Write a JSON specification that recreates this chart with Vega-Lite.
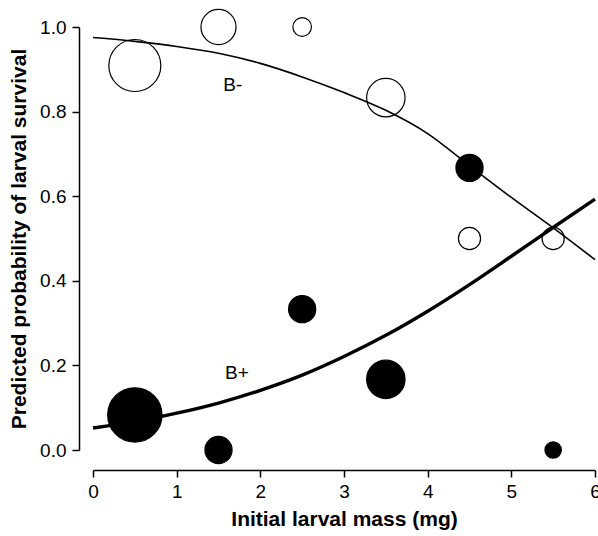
{
  "$schema": "https://vega.github.io/schema/vega-lite/v6.json",
  "width": 502,
  "height": 423,
  "autosize": "none",
  "padding": {"left": 93, "top": 27, "right": 3, "bottom": 86},
  "config": {
    "view": {"stroke": null},
    "font": "Liberation Sans",
    "axis": {
      "grid": false,
      "domainColor": "black",
      "domainWidth": 1.5,
      "tickColor": "black",
      "tickWidth": 1.5,
      "tickSize": 7,
      "labelColor": "black",
      "labelFontSize": 19,
      "labelFont": "Liberation Sans",
      "titleColor": "black",
      "titleFontSize": 21,
      "titleFontWeight": "bold",
      "titleFont": "Liberation Sans"
    }
  },
  "datasets": {
    "points": [
      {"mass": 0.5, "p": 0.909, "n": 11, "group": "B-"},
      {"mass": 1.5, "p": 1.0, "n": 5, "group": "B-"},
      {"mass": 2.5, "p": 1.0, "n": 1.4, "group": "B-"},
      {"mass": 3.5, "p": 0.833, "n": 6, "group": "B-"},
      {"mass": 4.5, "p": 0.5, "n": 2, "group": "B-"},
      {"mass": 5.5, "p": 0.5, "n": 2, "group": "B-"},
      {"mass": 0.5, "p": 0.083, "n": 12, "group": "B+"},
      {"mass": 1.5, "p": 0.0, "n": 3, "group": "B+"},
      {"mass": 2.5, "p": 0.333, "n": 3, "group": "B+"},
      {"mass": 3.5, "p": 0.167, "n": 6, "group": "B+"},
      {"mass": 4.5, "p": 0.667, "n": 3, "group": "B+"},
      {"mass": 5.5, "p": 0.0, "n": 1.1, "group": "B+"}
    ],
    "curves": [
      {"mass": 0, "p": 0.975, "group": "B-"},
      {"mass": 0.5, "p": 0.966, "group": "B-"},
      {"mass": 1, "p": 0.954, "group": "B-"},
      {"mass": 1.5, "p": 0.938, "group": "B-"},
      {"mass": 2, "p": 0.914, "group": "B-"},
      {"mass": 2.5, "p": 0.882, "group": "B-"},
      {"mass": 3, "p": 0.845, "group": "B-"},
      {"mass": 3.5, "p": 0.803, "group": "B-"},
      {"mass": 4, "p": 0.748, "group": "B-"},
      {"mass": 4.5, "p": 0.672, "group": "B-"},
      {"mass": 5, "p": 0.597, "group": "B-"},
      {"mass": 5.5, "p": 0.525, "group": "B-"},
      {"mass": 6, "p": 0.45, "group": "B-"},
      {"mass": 0, "p": 0.052, "group": "B+"},
      {"mass": 0.5, "p": 0.067, "group": "B+"},
      {"mass": 1, "p": 0.087, "group": "B+"},
      {"mass": 1.5, "p": 0.111, "group": "B+"},
      {"mass": 2, "p": 0.141, "group": "B+"},
      {"mass": 2.5, "p": 0.177, "group": "B+"},
      {"mass": 3, "p": 0.221, "group": "B+"},
      {"mass": 3.5, "p": 0.271, "group": "B+"},
      {"mass": 4, "p": 0.328, "group": "B+"},
      {"mass": 4.5, "p": 0.391, "group": "B+"},
      {"mass": 5, "p": 0.458, "group": "B+"},
      {"mass": 5.5, "p": 0.526, "group": "B+"},
      {"mass": 6, "p": 0.593, "group": "B+"}
    ],
    "labels": [
      {"mass": 1.67, "p": 0.863, "label": "B-"},
      {"mass": 1.72, "p": 0.182, "label": "B+"}
    ]
  },
  "layer": [
    {
      "data": {"name": "curves"},
      "mark": {"type": "line", "color": "black", "interpolate": "monotone"},
      "encoding": {
        "x": {
          "field": "mass", "type": "quantitative",
          "scale": {"domain": [0, 6], "nice": false, "zero": false},
          "axis": {
            "values": [0, 1, 2, 3, 4, 5, 6],
            "format": "d",
            "offset": 20,
            "labelPadding": 5,
            "titlePadding": 7,
            "labelFlush": false,
            "title": "Initial larval mass (mg)"
          }
        },
        "y": {
          "field": "p", "type": "quantitative",
          "scale": {"domain": [0, 1], "nice": false},
          "axis": {
            "values": [0, 0.2, 0.4, 0.6, 0.8, 1.0],
            "format": ".1f",
            "offset": 14,
            "labelPadding": 6,
            "titlePadding": 10,
            "labelFlush": false,
            "title": "Predicted probability of larval survival"
          }
        },
        "detail": {"field": "group"},
        "strokeWidth": {
          "field": "group", "type": "nominal",
          "scale": {"domain": ["B-", "B+"], "range": [1.6, 3.4]},
          "legend": null
        }
      }
    },
    {
      "data": {"name": "points"},
      "mark": {"type": "circle", "stroke": "black", "strokeWidth": 1.2, "fill": "black", "opacity": 1},
      "encoding": {
        "x": {"field": "mass", "type": "quantitative"},
        "y": {"field": "p", "type": "quantitative"},
        "size": {
          "field": "n", "type": "quantitative",
          "scale": {"type": "linear", "domain": [0, 12], "range": [0, 2950]},
          "legend": null
        },
        "fillOpacity": {
          "field": "group", "type": "nominal",
          "scale": {"domain": ["B-", "B+"], "range": [0, 1]},
          "legend": null
        }
      }
    },
    {
      "data": {"name": "labels"},
      "mark": {"type": "text", "fontSize": 19, "color": "black", "font": "Liberation Sans"},
      "encoding": {
        "x": {"field": "mass", "type": "quantitative"},
        "y": {"field": "p", "type": "quantitative"},
        "text": {"field": "label"}
      }
    }
  ]
}
